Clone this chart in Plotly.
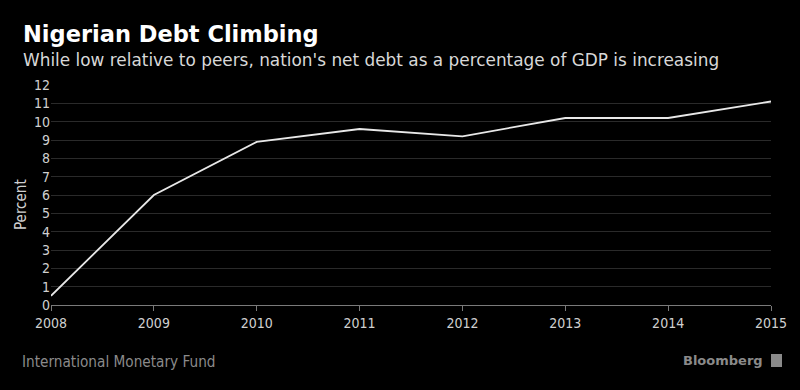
import plotly.graph_objects as go

years = [2008, 2009, 2010, 2011, 2012, 2013, 2014, 2015]
net_debt_pct_gdp = [0.5, 6.0, 8.9, 9.6, 9.2, 10.2, 10.2, 11.1]
y_ticks = list(range(0, 13))

FONT = "DejaVu Sans"
COND = "DejaVu Sans Condensed, Liberation Sans Narrow, DejaVu Sans"

W, H = 800, 390
ML, MR, MT, MB = 51, 29, 85, 85
PW, PH = W - ML - MR, H - MT - MB


def px(x):
    return (x - ML) / PW


def py(y):
    return (H - MB - y) / PH


fig = go.Figure()
fig.add_trace(go.Scatter(
    x=years, y=net_debt_pct_gdp, mode="lines",
    line=dict(color="#e8e8e8", width=1.8),
    hoverinfo="x+y", showlegend=False,
))

fig.update_layout(
    width=W, height=H,
    paper_bgcolor="#000000", plot_bgcolor="#000000",
    margin=dict(l=ML, r=MR, t=MT, b=MB),
    font=dict(family=FONT, color="#c8c8c8", size=13),
    xaxis=dict(
        range=[2008, 2015], tickvals=years, ticktext=[str(y) for y in years],
        showgrid=False, zeroline=False,
        showline=True, linecolor="#7a7a7a", linewidth=1,
        ticks="outside", ticklen=5, tickcolor="#7a7a7a",
        tickfont=dict(family=COND, size=14, color="#d0d0d0"),
        fixedrange=True,
    ),
    yaxis=dict(
        range=[0, 12], tickvals=y_ticks,
        showgrid=True, gridcolor="#2a2a2a", gridwidth=1,
        zeroline=False, showline=False, ticks="",
        tickfont=dict(family=COND, size=14, color="#d0d0d0"),
        fixedrange=True,
    ),
    shapes=[
        dict(type="rect", xref="paper", yref="paper",
             x0=px(771), x1=px(782), y0=py(367), y1=py(354),
             fillcolor="#8a8a8a", line=dict(width=0)),
    ],
    annotations=[
        dict(text="<b>Nigerian Debt Climbing</b>", x=px(21), y=py(34), xref="paper", yref="paper",
             showarrow=False, xanchor="left", yanchor="middle",
             font=dict(family=FONT, size=22.5, color="#ffffff")),
        dict(text="While low relative to peers, nation's net debt as a percentage of GDP is increasing",
             x=px(21), y=py(60), xref="paper", yref="paper", showarrow=False,
             xanchor="left", yanchor="middle",
             font=dict(family=FONT, size=16.9, color="#d8d8d8")),
        dict(text="Percent", x=px(21), y=py(205), xref="paper", yref="paper",
             showarrow=False, xanchor="center", yanchor="middle", textangle=-90,
             font=dict(family=COND, size=15, color="#d0d0d0")),
        dict(text="International Monetary Fund", x=px(20), y=py(362), xref="paper", yref="paper",
             showarrow=False, xanchor="left", yanchor="middle",
             font=dict(family=COND, size=15.2, color="#8a8a8a")),
        dict(text="<b>Bloomberg</b>", x=px(765), y=py(360), xref="paper", yref="paper",
             showarrow=False, xanchor="right", yanchor="middle",
             font=dict(family=FONT, size=13, color="#8a8a8a")),
    ],
)

fig.write_html(
    "out.html",
    config={"displayModeBar": False},
    post_script="document.body.style.margin='0';document.body.style.overflow='hidden';",
)
